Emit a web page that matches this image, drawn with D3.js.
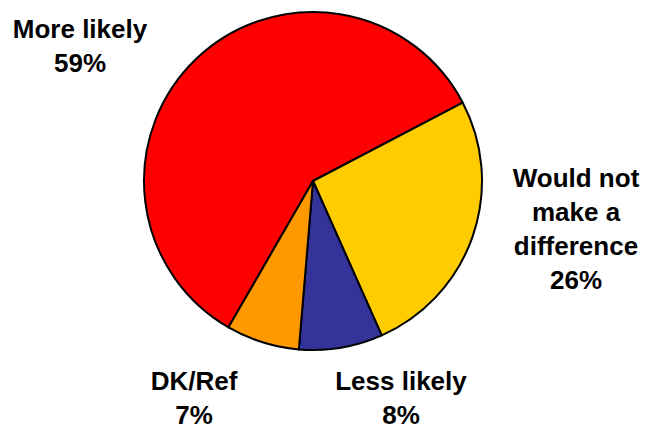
<!DOCTYPE html>
<html>
<head>
<meta charset="utf-8">
<script src="https://cdn.jsdelivr.net/npm/d3@7"></script>
<style>
  html, body { margin: 0; padding: 0; background: #fff; }
  svg { display: block; }
  text { font-family: "Liberation Sans", Arial, sans-serif; font-weight: bold; fill: #000; }
</style>
</head>
<body>
<svg id="chart" width="646" height="425"></svg>
<script>
// Survey responses, in drawing order (clockwise)
const categories = ["More likely", "Would not make a difference", "Less likely", "DK/Ref"];
const values = [59, 26, 8, 7];
const colors = ["#FF0000", "#FFCC00", "#333399", "#FF9900"];

// Label lines for each slice (category text wrapped, then the percentage)
const labelLines = [
  ["More likely"],
  ["Would not", "make a", "difference"],
  ["Less likely"],
  ["DK/Ref"]
];

const W = 646, H = 425;
const cx = 313, cy = 181, radius = 169;
const lineHeight = 34;
const fontSize = 26;

// Where each label block's first baseline sits
const labelAnchors = [
  { x: 80, y: 38 },
  { x: 576, y: 187 },
  { x: 401, y: 390 },
  { x: 194, y: 390 }
];

const svg = d3.select("#chart");
const data = categories.map((c, i) => ({ category: c, value: values[i], color: colors[i], lines: labelLines[i] }));

const pie = d3.pie()
  .value(d => d.value)
  .sort(null)
  .startAngle(-150 * Math.PI / 180)
  .endAngle(210 * Math.PI / 180);

const arc = d3.arc().innerRadius(0).outerRadius(radius);

const g = svg.append("g").attr("transform", `translate(${cx},${cy})`);

g.selectAll("path.slice")
  .data(pie(data))
  .join("path")
  .attr("class", "slice")
  .attr("d", arc)
  .attr("fill", d => d.data.color)
  .attr("stroke", "#000")
  .attr("stroke-width", 2)
  .attr("stroke-linejoin", "round");

const labels = svg.selectAll("text.label")
  .data(data)
  .join("text")
  .attr("class", "label")
  .attr("text-anchor", "middle")
  .attr("font-size", fontSize)
  .attr("x", (d, i) => labelAnchors[i].x)
  .attr("y", (d, i) => labelAnchors[i].y);

labels.each(function (d, i) {
  const t = d3.select(this);
  const lines = d.lines.concat([d.value + "%"]);
  lines.forEach((line, j) => {
    t.append("tspan")
      .attr("x", labelAnchors[i].x)
      .attr("dy", j === 0 ? 0 : lineHeight)
      .text(line);
  });
});
</script>
</body>
</html>
